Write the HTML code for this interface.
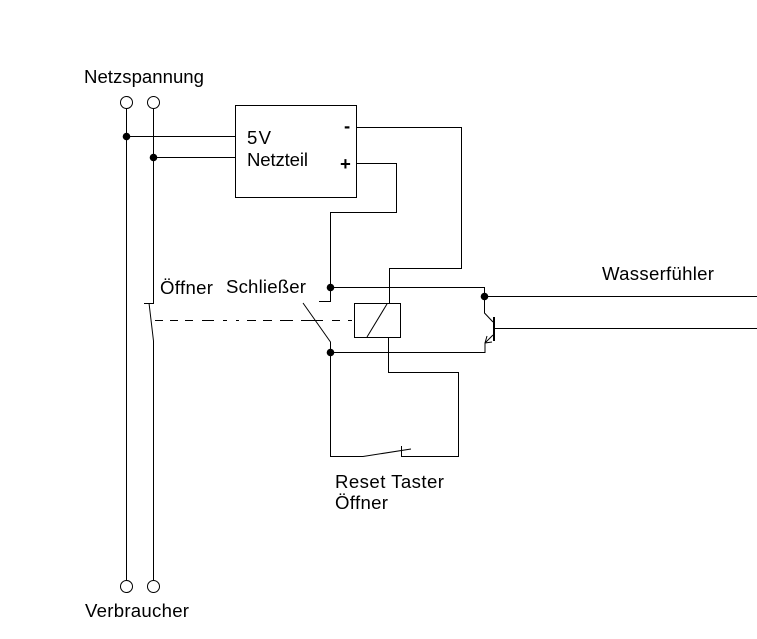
<!DOCTYPE html>
<html><head><meta charset="utf-8"><style>
html,body{margin:0;padding:0;background:#fff;width:757px;height:639px;overflow:hidden}
svg{display:block}
text{font-family:"Liberation Sans",sans-serif;font-size:18.6px;fill:#000}
.l{fill:none;stroke:#000;stroke-width:1}
</style></head><body>
<svg width="757" height="639" viewBox="0 0 757 639" xmlns="http://www.w3.org/2000/svg">
<rect width="757" height="639" fill="#fff"/>
<g class="l">
<circle cx="126.5" cy="102.5" r="6"/><circle cx="153.5" cy="102.5" r="6"/>
<circle cx="126.5" cy="586.5" r="6"/><circle cx="153.5" cy="586.5" r="6"/>
<path d="M126.5 108.5V580.5M126.5 136.5H235M153.5 108.5V303M153.5 157.5H235M144 303.5H154M149 303L153.5 341M153.5 341V580.5"/>
<rect x="235.5" y="105.5" width="121" height="92"/>
<path d="M357 127.5H461.5V268.5H389.5V303"/>
<path d="M357 163.5H396.5V212.5H330.5V301.5H319"/>
<path d="M330.5 287.5H484.5V313L493 322"/>
<path d="M484.5 296.5H757M495 328.5H757"/>
<path d="M303 303L330.5 342V456.5H363L411 449M330 352.5H485V343L493 335M401.5 446V456.5H458.5V372.5H388.5V338"/>
<rect x="354.5" y="303.5" width="46" height="34"/>
<path d="M387 304L367 337"/>
<path d="M155 320.5H163M170 320.5H178M185 320.5H193M202 320.5H214M223 320.5H227M236 320.5H239M247 320.5H256M263 320.5H272M280 320.5H293M301 320.5H323M332 320.5H340M348 320.5H352"/>
<path d="M485 343L487 336M485 343L492 342"/>
</g>
<rect x="493" y="317" width="2" height="24" fill="#000"/>
<g fill="#000">
<circle cx="126.5" cy="136.5" r="3.8"/><circle cx="153.5" cy="157.5" r="3.8"/>
<circle cx="330.5" cy="287.5" r="3.8"/><circle cx="330.5" cy="352.5" r="3.8"/>
<circle cx="484.5" cy="296.5" r="3.8"/>
</g>
<text x="84" y="83" textLength="120">Netzspannung</text>
<text x="247" y="144" textLength="24">5V</text>
<text x="247" y="166" textLength="61">Netzteil</text>
<text x="344" y="132" style="font-weight:bold">-</text>
<text x="340" y="170" style="font-weight:bold">+</text>
<text x="160" y="294" textLength="53">Öffner</text>
<text x="226" y="293" textLength="80">Schließer</text>
<text x="602" y="280" textLength="112">Wasserfühler</text>
<text x="335" y="488" textLength="109">Reset Taster</text>
<text x="335" y="509" textLength="53">Öffner</text>
<text x="85" y="617" textLength="104">Verbraucher</text>
</svg>
</body></html>
